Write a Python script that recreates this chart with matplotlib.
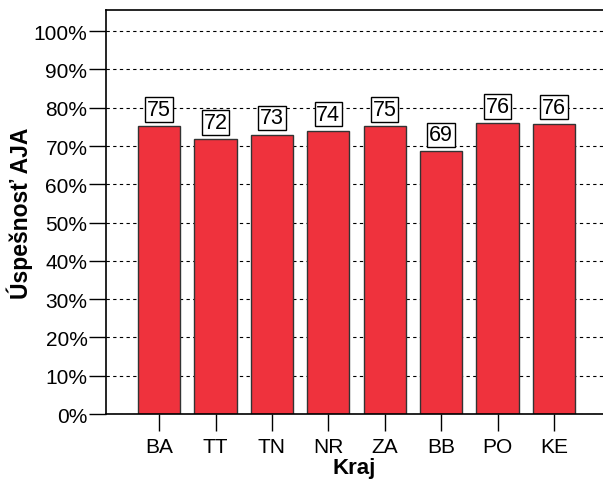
import matplotlib
matplotlib.use("Agg")
import matplotlib.pyplot as plt
from matplotlib.ticker import FuncFormatter

# Region codes and success rate values
regions = ['BA', 'TT', 'TN', 'NR', 'ZA', 'BB', 'PO', 'KE']
success = [75.2, 71.8, 73.0, 74.0, 75.2, 68.6, 76.0, 75.8]
labels = ['75', '72', '73', '74', '75', '69', '76', '76']
y_ticks = [0, 10, 20, 30, 40, 50, 60, 70, 80, 90, 100]

plt.rcParams['font.family'] = ['Liberation Sans', 'DejaVu Sans']

fig = plt.figure(figsize=(6.03, 4.85), dpi=100)
ax = fig.add_axes([0.175, 0.1443, 0.825, 0.832])

x = range(len(regions))

# Dashed horizontal grid behind bars
ax.set_axisbelow(True)
ax.yaxis.grid(True, linestyle=(0, (3, 3)), color='black', linewidth=0.8)

ax.bar(x, success, width=0.75, color='#EF323D', edgecolor='#333333', linewidth=1.0, zorder=2)

# Value labels in little boxes above the bars
for xi, val, lab in zip(x, success, labels):
    ax.text(xi, val + 1.6, lab, ha='center', va='bottom', fontsize=15.5, zorder=3,
            bbox=dict(boxstyle='square,pad=0.08', facecolor='white', edgecolor='black', linewidth=1.0))

ax.set_xlim(-0.95, 7.87)
ax.set_ylim(0, 105.4)
ax.set_xticks(list(x))
ax.set_xticklabels(regions)
ax.set_yticks(y_ticks)
ax.yaxis.set_major_formatter(FuncFormatter(lambda v, p: '%d%%' % v))

ax.tick_params(axis='both', labelsize=15, length=12, width=1.0, direction='out')
ax.tick_params(axis='y', pad=1)
ax.tick_params(axis='x', pad=4.5)

ax.spines['right'].set_visible(False)
for s in ['left', 'bottom', 'top']:
    ax.spines[s].set_linewidth(1.2)

ax.set_xlabel('Kraj', fontsize=16, fontweight='bold', labelpad=1)
ax.set_ylabel('Úspešnosť AJA', fontsize=16.5, fontweight='bold', labelpad=0.5)

fig.savefig('out.png', dpi=100)
